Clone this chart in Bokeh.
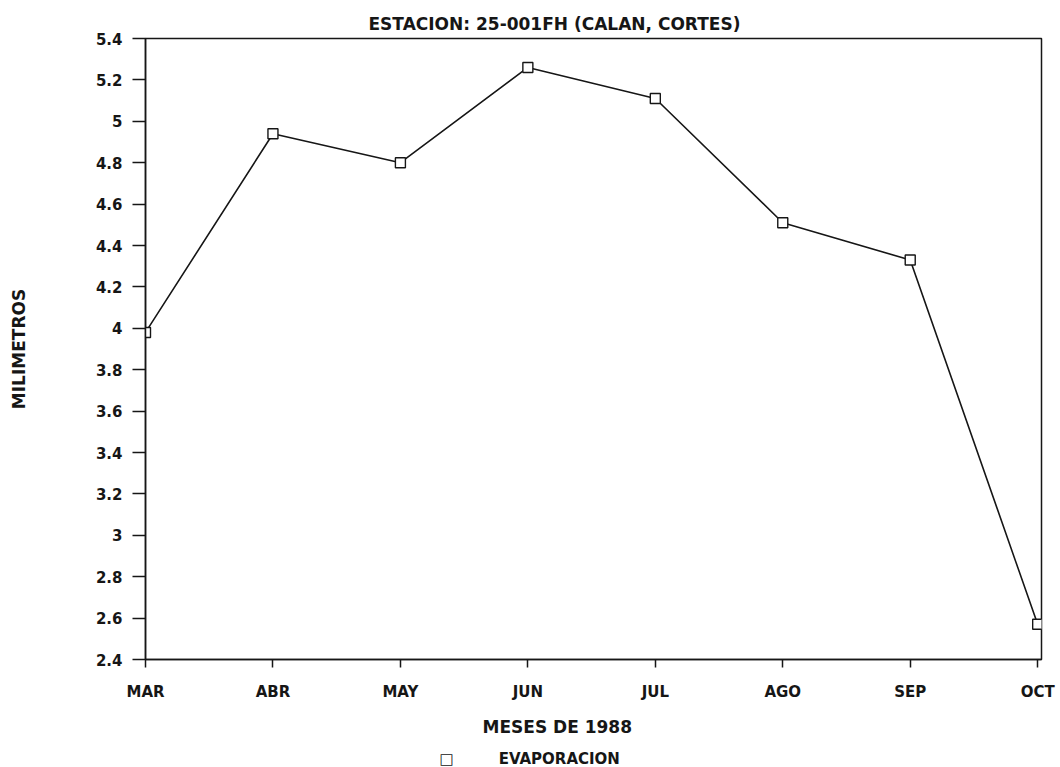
from bokeh.plotting import figure
from bokeh.models import Range1d, FixedTicker, Title
from bokeh.embed import file_html
from bokeh.resources import INLINE

# Monthly mean evaporation, station 25-001FH (Calan, Cortes), 1988
months = ["MAR", "ABR", "MAY", "JUN", "JUL", "AGO", "SEP", "OCT"]
evaporacion = [3.98, 4.94, 4.80, 5.26, 5.11, 4.51, 4.33, 2.57]
y_ticks = [2.4, 2.6, 2.8, 3.0, 3.2, 3.4, 3.6, 3.8, 4.0, 4.2, 4.4, 4.6, 4.8, 5.0, 5.2, 5.4]
series_name = "EVAPORACION"

x = list(range(len(months)))
FONT = "DejaVu Sans"
INK = "#161616"

p = figure(
    width=1060, height=767,
    output_backend="svg", toolbar_location=None,
    x_range=Range1d(0, 7.03), y_range=Range1d(2.4, 5.4),
    min_border_left=145, min_border_right=19,
    min_border_top=38, min_border_bottom=107,
    background_fill_color="white", border_fill_color="white",
)

p.title.text = "ESTACION: 25-001FH (CALAN, CORTES)"
p.title.align = "left"
p.title.offset = 223
p.title.text_font = FONT
p.title.text_font_style = "bold"
p.title.text_font_size = "17px"
p.title.text_color = INK

p.outline_line_color = INK
p.outline_line_width = 1.5
p.xgrid.visible = False
p.ygrid.visible = False

# x axis: month positions
p.xaxis.ticker = FixedTicker(ticks=x)
p.xaxis.major_label_overrides = {i: m for i, m in enumerate(months)}
p.xaxis.major_tick_out = 8
p.xaxis.major_tick_in = 0
p.xaxis.minor_tick_line_color = None
p.xaxis.major_label_standoff = 15

# y axis
p.yaxis.ticker = FixedTicker(ticks=y_ticks)
p.yaxis.major_label_overrides = {t: (f"{t:g}") for t in y_ticks}
p.yaxis.axis_label = "MILIMETROS"
p.yaxis.major_tick_out = 13
p.yaxis.major_tick_in = 0
p.yaxis.minor_tick_line_color = None
p.yaxis.major_label_standoff = 10
p.yaxis.axis_label_standoff = 64

for ax in (p.xaxis, p.yaxis):
    ax.axis_line_color = INK
    ax.axis_line_width = 1.5
    ax.major_tick_line_color = INK
    ax.major_tick_line_width = 1.5
    ax.major_label_text_font = FONT
    ax.major_label_text_font_style = "bold"
    ax.major_label_text_font_size = "15px"
    ax.major_label_text_color = INK
    ax.axis_label_text_font = FONT
    ax.axis_label_text_font_style = "bold"
    ax.axis_label_text_font_size = "17px"
    ax.axis_label_text_color = INK

p.line(x, evaporacion, line_color=INK, line_width=1.6)
p.scatter(x, evaporacion, marker="square", size=10,
          fill_color="white", line_color=INK, line_width=1.4)

# x-axis title, set slightly left of the frame centre
x_title = Title(
    text="MESES DE 1988", align="left", offset=337,
    text_font=FONT, text_font_style="bold",
    text_font_size="17px", text_color=INK, standoff=22,
    text_line_height=1.0,
)
p.add_layout(x_title, "below")

# series key under the x-axis title
key = Title(
    text="\u25a1\u2003\u2003\u2003" + series_name,
    align="left", offset=294,
    text_font=FONT, text_font_style="bold",
    text_font_size="15px", text_color=INK,
    standoff=0, text_line_height=1.0,
)
p.add_layout(key, "below")

open("out.html", "w").write(file_html(p, INLINE))
